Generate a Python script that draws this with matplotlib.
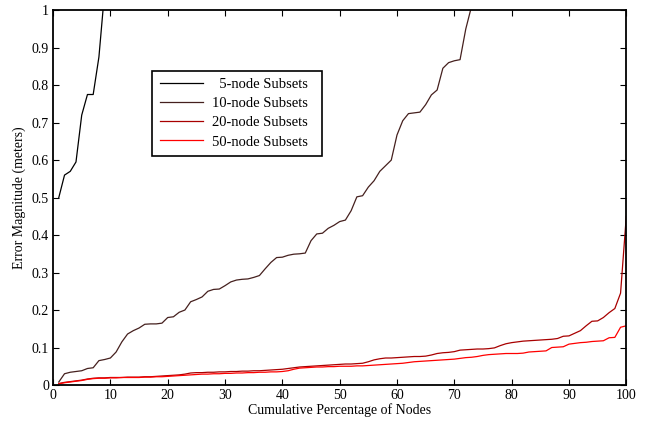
import matplotlib.pyplot as plt
import numpy as np

plt.rcParams['font.family'] = ['Liberation Serif', 'DejaVu Serif']
plt.rcParams['font.size'] = 10

# 数据 (x = 累计百分比)
x5 = [1, 2, 3, 4, 5, 6, 7, 8, 9]
err5 = [0.50, 0.56, 0.57, 0.595, 0.72, 0.775, 0.775, 0.875, 1.05]

x10 = list(range(1, 74))
err10 = [0.008, 0.03, 0.034, 0.036, 0.038, 0.044, 0.046, 0.065, 0.068, 0.072,
         0.088, 0.115, 0.136, 0.145, 0.152, 0.162, 0.163, 0.163, 0.165, 0.180,
         0.182, 0.194, 0.200, 0.222, 0.228, 0.235, 0.250, 0.255, 0.256, 0.265,
         0.275, 0.280, 0.282, 0.283, 0.287, 0.292, 0.310, 0.327, 0.340, 0.341,
         0.346, 0.349, 0.350, 0.352, 0.385, 0.403, 0.405, 0.418, 0.426, 0.436,
         0.440, 0.465, 0.502, 0.505, 0.528, 0.545, 0.570, 0.585, 0.600, 0.667,
         0.705, 0.724, 0.726, 0.728, 0.748, 0.774, 0.787, 0.845, 0.860, 0.865,
         0.868, 0.950, 1.010]

x20 = list(range(1, 101))
err20 = [0.004, 0.007, 0.009, 0.011, 0.013, 0.016, 0.018, 0.019, 0.019, 0.020,
         0.020, 0.020, 0.021, 0.021, 0.021, 0.022, 0.022, 0.023, 0.024, 0.025,
         0.026, 0.027, 0.029, 0.032, 0.033, 0.033, 0.034, 0.034, 0.035, 0.035,
         0.036, 0.036, 0.037, 0.037, 0.038, 0.038, 0.039, 0.040, 0.041, 0.042,
         0.044, 0.046, 0.048, 0.049, 0.050, 0.051, 0.052, 0.053, 0.054, 0.055,
         0.056, 0.056, 0.057, 0.058, 0.062, 0.067, 0.070, 0.072, 0.072, 0.073,
         0.074, 0.075, 0.076, 0.076, 0.077, 0.080, 0.084, 0.086, 0.087, 0.089,
         0.093, 0.094, 0.095, 0.096, 0.096, 0.097, 0.099, 0.105, 0.110, 0.113,
         0.115, 0.117, 0.118, 0.119, 0.120, 0.121, 0.122, 0.124, 0.130, 0.131,
         0.138, 0.145, 0.158, 0.170, 0.171, 0.180, 0.193, 0.204, 0.245, 0.450]

x50 = list(range(1, 101))
err50 = [0.003, 0.006, 0.008, 0.010, 0.012, 0.015, 0.017, 0.018, 0.018, 0.019,
         0.019, 0.020, 0.020, 0.020, 0.020, 0.021, 0.021, 0.022, 0.022, 0.023,
         0.024, 0.025, 0.026, 0.027, 0.028, 0.029, 0.029, 0.030, 0.030, 0.031,
         0.031, 0.032, 0.032, 0.033, 0.033, 0.034, 0.034, 0.035, 0.035, 0.036,
         0.038, 0.042, 0.045, 0.046, 0.047, 0.048, 0.048, 0.049, 0.049, 0.050,
         0.050, 0.050, 0.051, 0.051, 0.052, 0.053, 0.054, 0.055, 0.056, 0.057,
         0.058, 0.060, 0.062, 0.063, 0.064, 0.065, 0.066, 0.067, 0.068, 0.069,
         0.071, 0.073, 0.074, 0.076, 0.079, 0.081, 0.082, 0.083, 0.084, 0.084,
         0.084, 0.085, 0.088, 0.089, 0.090, 0.091, 0.100, 0.101, 0.102, 0.109,
         0.111, 0.113, 0.114, 0.116, 0.117, 0.118, 0.126, 0.127, 0.154, 0.158]

labels = ['  5-node Subsets  ', '10-node Subsets  ', '20-node Subsets  ', '50-node Subsets  ']
colors = ['#000000', '#45201e', '#a80000', '#ff0000']

fig = plt.figure(figsize=(6.47, 4.24), dpi=100)
ax = fig.add_axes([0.082, 0.092, 0.886, 0.884])

ax.plot(x5, err5, color=colors[0], lw=0.9, label=labels[0])
ax.plot(x10, err10, color=colors[1], lw=0.9, label=labels[1])
ax.plot(x20, err20, color=colors[2], lw=0.9, label=labels[2])
ax.plot(x50, err50, color=colors[3], lw=0.9, label=labels[3])

ax.set_xlim(0, 100)
ax.set_ylim(0, 1)
ax.set_xticks(np.arange(0, 101, 10))
ax.set_yticks(np.arange(0, 1.01, 0.1))
ax.set_yticklabels(['0', '0.1', '0.2', '0.3', '0.4', '0.5', '0.6', '0.7', '0.8', '0.9', '1'])
ax.tick_params(direction='in', top=True, right=True, length=4, width=0.8, pad=3)
for s in ax.spines.values():
    s.set_linewidth(1.3)

ax.set_xlabel('Cumulative Percentage of Nodes', labelpad=1)
ax.set_ylabel('Error Magnitude (meters)', labelpad=4)

leg = ax.legend(loc='upper left', bbox_to_anchor=(0.173, 0.838), fancybox=False,
                edgecolor='black', framealpha=1, handlelength=3.0, borderaxespad=0,
                labelspacing=0.4, borderpad=0.5, handletextpad=0.6,
                prop={'size': 10.5})
leg.get_frame().set_linewidth(1.2)

fig.savefig('out.png', dpi=100)
